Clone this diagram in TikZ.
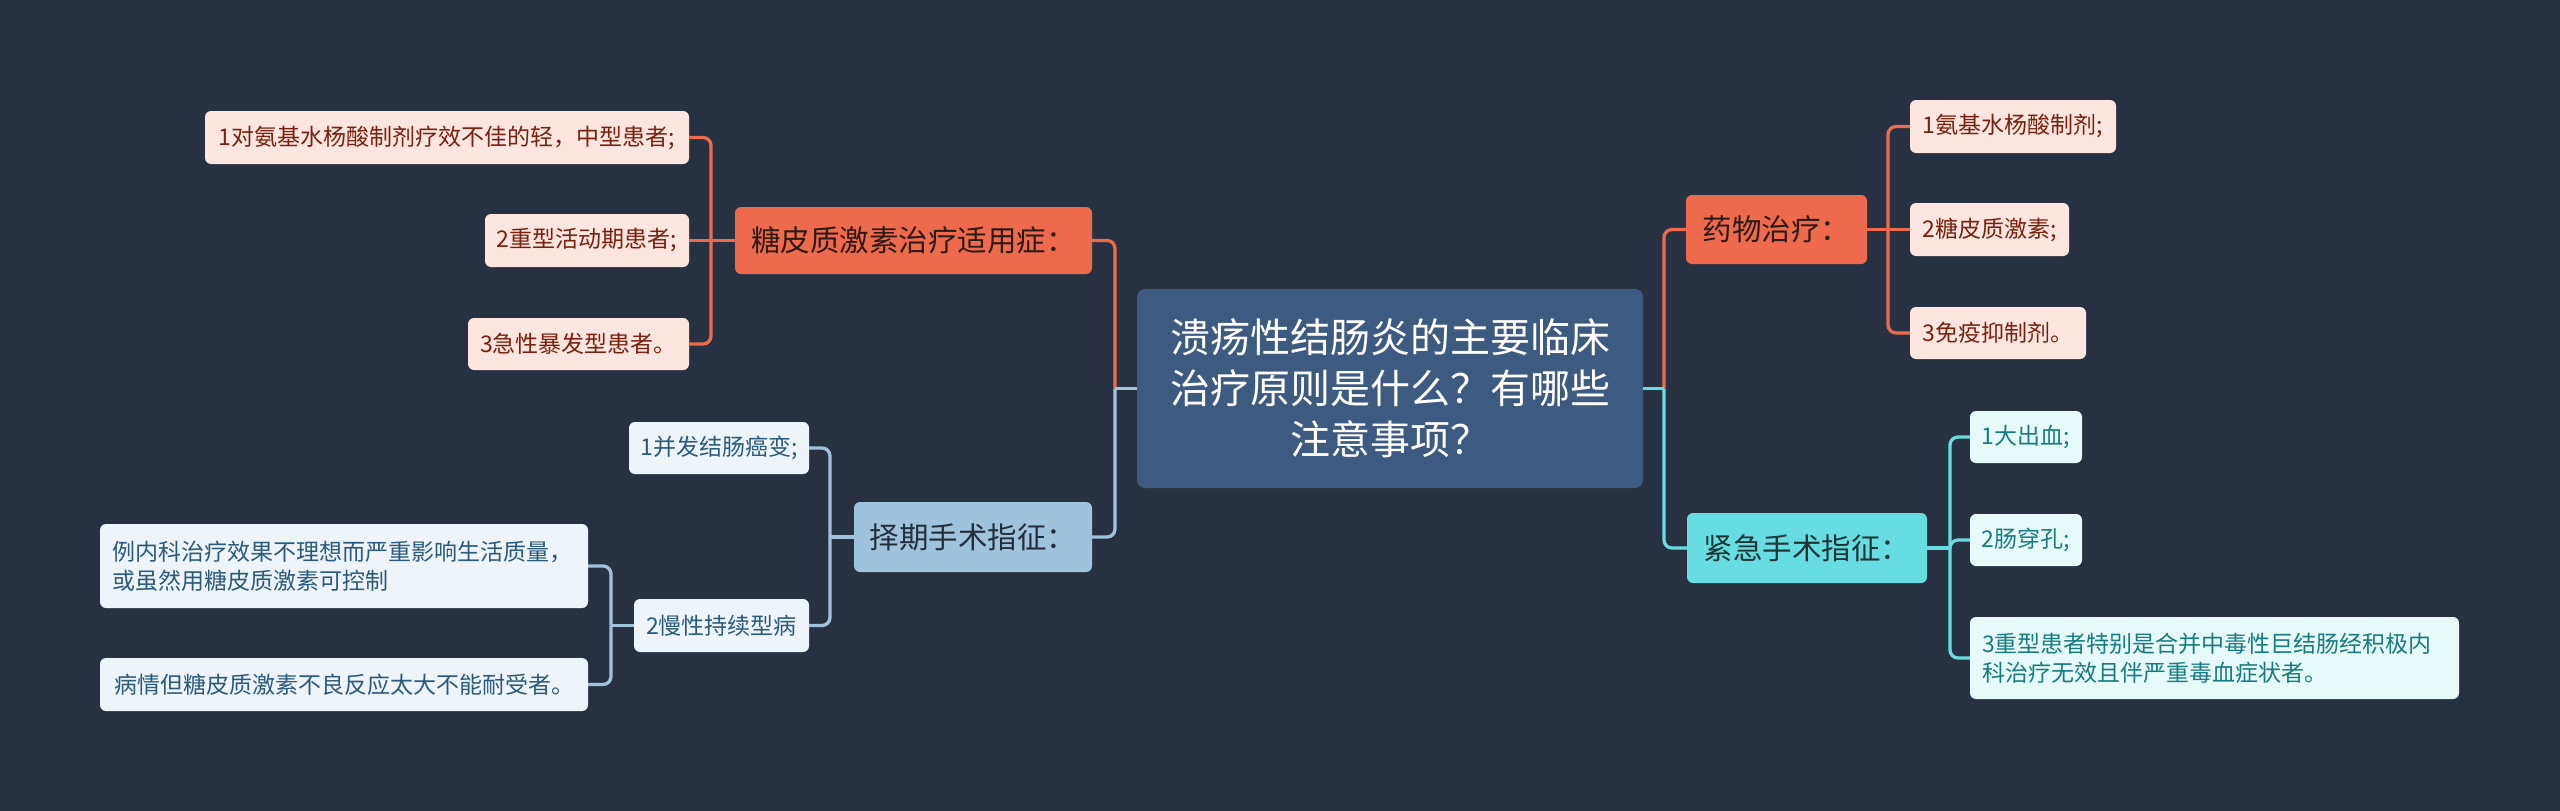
\documentclass[tikz,border=0pt]{standalone}
\usepackage{fontspec}
\setmainfont{Noto Sans CJK SC}
\definecolor{bg}{HTML}{283142}
\definecolor{ctrfill}{HTML}{3D5A80}
\definecolor{orng}{HTML}{EE6A4C}
\definecolor{orngtxt}{HTML}{2E1A14}
\definecolor{pinkfill}{HTML}{FDE6DF}
\definecolor{pinktxt}{HTML}{7A2010}
\definecolor{lblue}{HTML}{9FC3DC}
\definecolor{lbluetxt}{HTML}{232E3C}
\definecolor{bluefill}{HTML}{EDF4FA}
\definecolor{bluetxt}{HTML}{2B5A7C}
\definecolor{cyan1}{HTML}{67DDE2}
\definecolor{cyantxt}{HTML}{1C3537}
\definecolor{cyanfill}{HTML}{E6FAFA}
\definecolor{cyanctxt}{HTML}{177B81}
\tikzset{
  box/.style={rounded corners=6pt, inner sep=0pt, draw=none},
  ctrbox/.style={box, rounded corners=8pt, fill=ctrfill, text=white, align=center,
    font=\fontsize{40}{51}\selectfont},
  mainbox/.style={box, font=\fontsize{29.5}{36}\selectfont},
  kidbox/.style={box, font=\fontsize{23}{29}\selectfont},
  obox/.style={mainbox, fill=orng, text=orngtxt},
  okid/.style={kidbox, fill=pinkfill, text=pinktxt},
  bbox/.style={mainbox, fill=lblue, text=lbluetxt},
  bkid/.style={kidbox, fill=bluefill, text=bluetxt},
  cbox/.style={mainbox, fill=cyan1, text=cyantxt},
  ckid/.style={kidbox, fill=cyanfill, text=cyanctxt},
  link/.style={line width=3.3pt, rounded corners=8pt},
  olink/.style={link, draw=orng},
  blink/.style={link, draw=lblue},
  clink/.style={link, draw=cyan1},
}
\begin{document}
\begin{tikzpicture}[x=1pt, y=-1pt]
\fill[bg] (0,0) rectangle (2560,811);
\useasboundingbox (0,0) rectangle (2560,811);

% center
\node[ctrbox, minimum width=506pt, minimum height=199pt, text width=480pt] (ctr) at (1390,388.5)
  {溃疡性结肠炎的主要临床\\治疗原则是什么？有哪些\\注意事项？};

% left main branches
\node[obox, minimum width=357pt, minimum height=67pt] (L1) at (913.5,240.5) {糖皮质激素治疗适用症：};
\node[bbox, minimum width=238pt, minimum height=70pt] (L2) at (973,537) {择期手术指征：};

% L1 children
\node[okid, minimum width=484pt, minimum height=53pt] (L1a) at (447,137.5) {1对氨基水杨酸制剂疗效不佳的轻，中型患者;};
\node[okid, minimum width=204pt, minimum height=53pt] (L1b) at (587,240.5) {2重型活动期患者;};
\node[okid, minimum width=221pt, minimum height=52pt] (L1c) at (578.5,344) {3急性暴发型患者。};

% L2 children
\node[bkid, minimum width=180pt, minimum height=52pt] (L2a) at (719,448) {1并发结肠癌变;};
\node[bkid, minimum width=175pt, minimum height=53pt] (L2b) at (721.5,625.5) {2慢性持续型病};
\node[bkid, minimum width=488pt, minimum height=84pt, text width=464pt, align=left] (G1) at (344,566)
  {例内科治疗效果不理想而严重影响生活质量，\\或虽然用糖皮质激素可控制};
\node[bkid, minimum width=488pt, minimum height=53pt] (G2) at (344,684.5) {病情但糖皮质激素不良反应太大不能耐受者。};

% right main branches
\node[obox, minimum width=181pt, minimum height=69pt] (R1) at (1776.5,229.5) {药物治疗：};
\node[cbox, minimum width=240pt, minimum height=70pt] (R2) at (1807,548) {紧急手术指征：};

% R1 children
\node[okid, minimum width=206pt, minimum height=53pt] (R1a) at (2013,126.5) {1氨基水杨酸制剂;};
\node[okid, minimum width=159pt, minimum height=53pt] (R1b) at (1989.5,229.5) {2糖皮质激素;};
\node[okid, minimum width=176pt, minimum height=52pt] (R1c) at (1998,333) {3免疫抑制剂。};

% R2 children
\node[ckid, minimum width=112pt, minimum height=52pt] (R2a) at (2026,437) {1大出血;};
\node[ckid, minimum width=112pt, minimum height=52pt] (R2b) at (2026,540) {2肠穿孔;};
\node[ckid, minimum width=489pt, minimum height=82pt, text width=465pt, align=left] (R2c) at (2214.5,658)
  {3重型患者特别是合并中毒性巨结肠经积极内\\科治疗无效且伴严重毒血症状者。};

% junction coordinates
\coordinate (jl) at (1115,388.5);
\coordinate (jr) at (1664,388.5);
\coordinate (j1) at (711,240.5);
\coordinate (j2) at (830,537);
\coordinate (j3) at (611,625.5);
\coordinate (j4) at (1888,229.5);
\coordinate (j5) at (1950,548);

% center connectors
\draw[olink] (L1.east) -| (jl);
\draw[blink, rounded corners=0pt] (ctr.west) -- (jl);
\draw[blink] (jl) |- (L2.east);
\draw[olink] (R1.west) -| (jr);
\draw[clink, rounded corners=0pt] (ctr.east) -- (jr);
\draw[clink] (jr) |- (R2.west);

% L1 connectors
\draw[olink] (L1.west) -- (j1);
\draw[olink] (j1) |- (L1a.east);
\draw[olink] (j1) -- (L1b.east);
\draw[olink] (j1) |- (L1c.east);

% L2 connectors
\draw[blink] (L2.west) -- (j2);
\draw[blink] (j2) |- (L2a.east);
\draw[blink] (j2) |- (L2b.east);
\draw[blink] (L2b.west) -- (j3);
\draw[blink] (j3) |- (G1.east);
\draw[blink] (j3) |- (G2.east);

% R1 connectors
\draw[olink] (R1.east) -- (j4);
\draw[olink] (j4) |- (R1a.west);
\draw[olink] (j4) -- (R1b.west);
\draw[olink] (j4) |- (R1c.west);

% R2 connectors
\draw[clink] (R2.east) -- (j5);
\draw[clink] (j5) |- (R2a.west);
\draw[clink] (j5) |- (R2b.west);
\draw[clink] (j5) |- (R2c.west);
\end{tikzpicture}
\end{document}
